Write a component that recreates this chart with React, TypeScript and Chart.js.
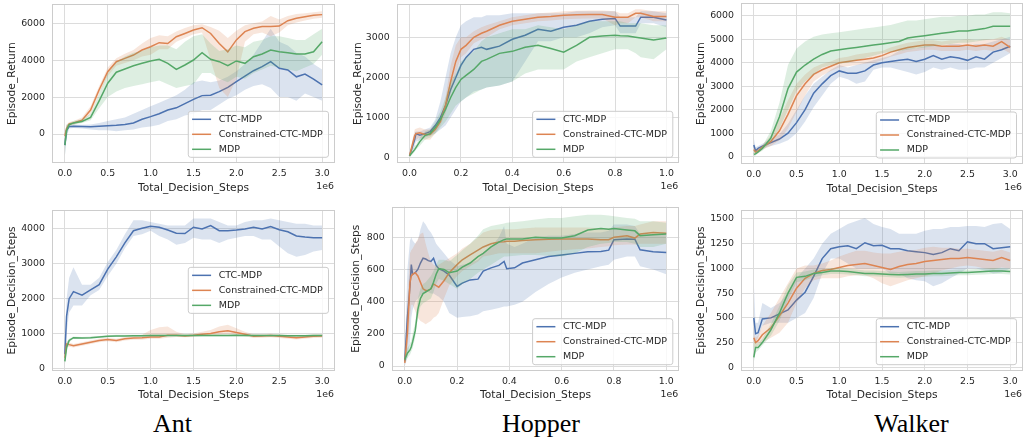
import React, { useEffect, useRef } from "react";
import { Chart, registerables } from "chart.js";

Chart.register(...registerables);

// ---------------- data ----------------
const SERIES_LABELS = ["CTC-MDP", "Constrained-CTC-MDP", "MDP"];
const X_AXIS_LABEL = "Total_Decision_Steps";
const Y_LABEL_RETURN = "Episode_Return";
const Y_LABEL_STEPS = "Episode_Decision_Steps";
const PANEL_TITLES = ["Ant", "Hopper", "Walker"];
const X_OFFSET_TEXT = "1e6";

const X_TICKS_3M = [0, 0.5, 1.0, 1.5, 2.0, 2.5, 3.0];
const X_TICKS_1M = [0, 0.2, 0.4, 0.6, 0.8, 1.0];
const Y_TICKS_ANT_RET = [0, 2000, 4000, 6000];
const Y_TICKS_HOP_RET = [0, 1000, 2000, 3000];
const Y_TICKS_WLK_RET = [0, 1000, 2000, 3000, 4000, 5000, 6000];
const Y_TICKS_ANT_STP = [0, 1000, 2000, 3000, 4000];
const Y_TICKS_HOP_STP = [0, 200, 400, 600, 800];
const Y_TICKS_WLK_STP = [0, 250, 500, 750, 1000, 1250, 1500];

// steps (in 1e6) for Ant / Walker runs
const X_LONG = [0, 0.02, 0.05, 0.1, 0.2, 0.3, 0.4, 0.5, 0.6, 0.7, 0.8, 0.9, 1.0, 1.1, 1.2, 1.3, 1.4, 1.5, 1.6, 1.7, 1.8, 1.9, 2.0, 2.1, 2.2, 2.3, 2.4, 2.5, 2.6, 2.7, 2.8, 2.9, 3.0];

// Ant - Episode_Return
const ANT_RET_CTC = [-600, 200, 400, 420, 400, 390, 420, 450, 470, 520, 600, 800, 940, 1100, 1300, 1420, 1650, 1880, 2080, 2100, 2300, 2530, 2840, 3140, 3430, 3650, 3920, 3560, 3470, 3100, 3250, 2980, 2660];
const ANT_RET_CTC_LO = [-1200, -200, 300, 320, 300, 250, 200, 200, 150, 200, 250, 350, 400, 500, 700, 800, 1000, 1100, 1300, 1300, 1600, 1900, 2100, 2400, 2600, 2700, 2500, 2000, 2000, 1800, 2200, 2000, 1800];
const ANT_RET_CTC_HI = [0, 500, 500, 520, 500, 520, 600, 700, 800, 900, 1100, 1300, 1500, 1700, 1900, 2100, 2400, 2800, 2900, 2800, 2900, 3100, 3400, 3800, 4300, 5000, 5700, 5000, 4800, 4400, 4200, 3800, 3500];
const ANT_RET_CON = [-100, 300, 550, 600, 750, 1300, 2400, 3380, 3920, 4100, 4280, 4550, 4730, 4950, 4900, 5270, 5450, 5640, 5760, 5450, 4900, 4450, 5100, 5550, 5730, 5820, 5820, 5850, 6140, 6270, 6360, 6430, 6470];
const ANT_RET_CON_LO = [-300, 200, 450, 500, 650, 1100, 2200, 3150, 3700, 3850, 4000, 4200, 4300, 4600, 4600, 5000, 5200, 5400, 5500, 4000, 2500, 2000, 3000, 5000, 5400, 5500, 5300, 5500, 5900, 6050, 6150, 6250, 6300];
const ANT_RET_CON_HI = [100, 500, 650, 700, 900, 1500, 2600, 3600, 4100, 4350, 4550, 4900, 5200, 5350, 5300, 5550, 5750, 5900, 5950, 5800, 5600, 5200, 5600, 5900, 6000, 6100, 6400, 6200, 6400, 6500, 6550, 6600, 6650];
const ANT_RET_MDP = [-600, 200, 500, 600, 680, 900, 1800, 2750, 3350, 3520, 3700, 3830, 3960, 4050, 3830, 3500, 3740, 4010, 4410, 4050, 3920, 3700, 3960, 3830, 4190, 4340, 4550, 4460, 4410, 4340, 4340, 4460, 5000];
const ANT_RET_MDP_LO = [-1200, -100, 400, 500, 600, 750, 1400, 2000, 2300, 2500, 2600, 2700, 2800, 2900, 2700, 2500, 2600, 2700, 3300, 3300, 3000, 2800, 3100, 3000, 3300, 3500, 3700, 3600, 3500, 3400, 3600, 3800, 4300];
const ANT_RET_MDP_HI = [0, 500, 600, 700, 800, 1100, 2200, 3300, 3900, 4200, 4400, 4500, 4700, 4800, 4800, 4600, 5000, 5300, 5400, 4900, 4500, 4600, 4800, 4700, 5000, 5100, 5300, 5300, 5200, 5100, 5100, 5400, 5700];

// Walker - Episode_Return
const WLK_RET_CTC = [500, 250, 350, 450, 600, 750, 1000, 1450, 2000, 2700, 3100, 3450, 3650, 3550, 3550, 3650, 3900, 4000, 4050, 4100, 4150, 4050, 4150, 4300, 4150, 4250, 4200, 4100, 4250, 4150, 4450, 4550, 4700];
const WLK_RET_CTC_LO = [300, 200, 250, 350, 450, 550, 700, 1000, 1500, 2100, 2600, 3100, 3400, 3300, 3100, 3200, 3700, 3800, 3800, 3700, 3600, 3500, 3600, 3800, 3700, 3800, 3700, 3700, 3800, 3800, 4000, 4200, 4400];
const WLK_RET_CTC_HI = [800, 400, 450, 550, 750, 950, 1400, 2000, 2600, 3100, 3400, 3700, 3900, 3800, 3900, 4000, 4100, 4200, 4300, 4500, 4600, 4600, 4700, 4800, 4700, 4800, 4800, 4700, 4800, 4800, 4900, 5000, 5100];
const WLK_RET_CON = [300, 200, 250, 400, 650, 1100, 1800, 2600, 3100, 3500, 3700, 3850, 4000, 4050, 4100, 4150, 4200, 4300, 4450, 4550, 4650, 4700, 4750, 4750, 4700, 4700, 4700, 4750, 4700, 4750, 4700, 4900, 4650];
const WLK_RET_CON_LO = [150, 100, 150, 300, 450, 700, 1200, 1900, 2600, 3200, 3450, 3650, 3800, 3850, 3900, 3950, 4000, 4100, 4250, 4350, 4450, 4500, 4550, 4550, 4500, 4500, 4500, 4550, 4500, 4550, 4500, 4600, 4400];
const WLK_RET_CON_HI = [400, 300, 350, 500, 900, 1600, 2400, 3100, 3500, 3800, 3950, 4050, 4200, 4250, 4350, 4400, 4450, 4500, 4650, 4750, 4850, 4900, 4950, 4950, 4900, 4950, 4950, 5000, 4950, 5000, 5000, 5100, 4950];
const WLK_RET_MDP = [100, 120, 200, 350, 800, 1700, 2900, 3600, 3900, 4150, 4350, 4500, 4550, 4600, 4650, 4700, 4750, 4800, 4850, 4900, 5050, 5100, 5150, 5200, 5250, 5300, 5350, 5350, 5400, 5450, 5550, 5550, 5550];
const WLK_RET_MDP_LO = [0, 50, 150, 250, 600, 1200, 2000, 2800, 3200, 3500, 3800, 3900, 3950, 4000, 4100, 4200, 4300, 4400, 4450, 4500, 4550, 4600, 4650, 4700, 4750, 4800, 4850, 4850, 4900, 4950, 5000, 5000, 5000];
const WLK_RET_MDP_HI = [300, 250, 300, 450, 1100, 2300, 3900, 4600, 4900, 5100, 5200, 5250, 5300, 5350, 5400, 5450, 5500, 5550, 5600, 5700, 5800, 5800, 5850, 5900, 5950, 5950, 6000, 6000, 6050, 6050, 6150, 6150, 6100];

// Ant - Episode_Decision_Steps
const ANT_STP_CTC = [400, 1500, 2000, 2200, 2100, 2250, 2400, 2850, 3200, 3600, 3950, 4020, 4080, 4050, 3970, 3880, 3870, 4050, 4000, 4100, 3950, 3950, 3970, 4000, 4050, 4000, 4070, 3980, 3920, 3800, 3770, 3750, 3750];
const ANT_STP_CTC_LO = [200, 1000, 1600, 1800, 1800, 2100, 2250, 2650, 3000, 3450, 3800, 3850, 3950, 3800, 3700, 3550, 3600, 3750, 3700, 3700, 3600, 3700, 3750, 3800, 3800, 3700, 3700, 3500, 3300, 3200, 3250, 3350, 3400];
const ANT_STP_CTC_HI = [600, 2000, 2600, 2900, 2400, 2400, 2600, 3050, 3400, 3850, 4250, 4250, 4200, 4150, 4100, 4100, 4100, 4300, 4300, 4300, 4200, 4100, 4100, 4200, 4250, 4250, 4300, 4250, 4200, 4150, 4150, 4100, 4100];
const ANT_STP_CON = [300, 700, 680, 650, 700, 750, 800, 830, 800, 850, 870, 880, 900, 900, 950, 950, 930, 950, 980, 1000, 1050, 1080, 1030, 980, 920, 930, 940, 920, 900, 880, 900, 920, 930];
const ANT_STP_CON_LO = [150, 600, 620, 600, 650, 700, 750, 780, 750, 800, 820, 820, 850, 850, 880, 900, 890, 900, 930, 950, 960, 980, 960, 920, 870, 880, 890, 870, 850, 830, 850, 870, 880];
const ANT_STP_CON_HI = [450, 800, 740, 700, 750, 800, 850, 880, 850, 900, 920, 960, 1100, 1180, 1200, 1050, 980, 1000, 1050, 1100, 1200, 1250, 1150, 1050, 980, 980, 990, 970, 950, 930, 950, 970, 980];
const ANT_STP_MDP = [200, 600, 800, 880, 870, 880, 900, 920, 930, 930, 935, 935, 940, 940, 940, 940, 945, 945, 945, 945, 945, 945, 950, 945, 945, 940, 940, 940, 935, 935, 935, 940, 940];
const ANT_STP_MDP_LO = [100, 450, 750, 850, 840, 850, 870, 890, 900, 900, 905, 905, 910, 910, 910, 910, 915, 915, 915, 915, 915, 915, 920, 915, 915, 910, 910, 910, 905, 905, 905, 910, 910];
const ANT_STP_MDP_HI = [300, 750, 850, 910, 900, 910, 930, 950, 960, 960, 965, 965, 970, 970, 970, 970, 975, 975, 975, 975, 975, 975, 980, 975, 975, 970, 970, 970, 965, 965, 965, 970, 970];

// Walker - Episode_Decision_Steps
const WLK_STP_CTC = [500, 340, 350, 490, 500, 540, 580, 680, 760, 920, 1100, 1200, 1220, 1230, 1200, 1260, 1230, 1235, 1200, 1200, 1180, 1170, 1160, 1140, 1160, 1200, 1180, 1270, 1250, 1250, 1200, 1210, 1220];
const WLK_STP_CTC_LO = [300, 250, 300, 420, 450, 450, 450, 500, 550, 700, 950, 1100, 1100, 1050, 1000, 1000, 1000, 1000, 950, 950, 900, 880, 870, 820, 850, 900, 950, 1000, 1000, 980, 950, 960, 1000];
const WLK_STP_CTC_HI = [850, 450, 450, 650, 600, 650, 750, 900, 1000, 1100, 1250, 1350, 1400, 1450, 1480, 1510, 1450, 1420, 1400, 1350, 1350, 1350, 1380, 1400, 1400, 1420, 1420, 1430, 1430, 1420, 1450, 1460, 1400];
const WLK_STP_CON = [300, 250, 270, 330, 400, 520, 650, 800, 900, 950, 980, 990, 1010, 1030, 1040, 1050, 1030, 1010, 990, 1020, 1040, 1050, 1070, 1080, 1090, 1100, 1100, 1110, 1100, 1090, 1080, 1110, 1080];
const WLK_STP_CON_LO = [200, 200, 220, 250, 300, 350, 450, 650, 800, 880, 900, 900, 900, 920, 930, 930, 900, 850, 820, 850, 880, 900, 920, 950, 980, 1000, 1020, 1030, 1020, 1000, 990, 1010, 1000];
const WLK_STP_CON_HI = [350, 300, 320, 420, 550, 700, 850, 1000, 1030, 1030, 1050, 1080, 1120, 1150, 1180, 1180, 1160, 1150, 1150, 1170, 1180, 1190, 1210, 1220, 1210, 1210, 1200, 1200, 1190, 1180, 1170, 1190, 1160];
const WLK_STP_MDP = [100, 200, 200, 250, 380, 550, 750, 910, 920, 950, 960, 975, 975, 970, 960, 950, 950, 945, 940, 935, 940, 945, 945, 950, 950, 955, 960, 960, 965, 970, 975, 975, 970];
const WLK_STP_MDP_LO = [50, 150, 170, 220, 320, 470, 680, 860, 880, 910, 930, 945, 945, 940, 930, 920, 920, 915, 910, 905, 910, 915, 915, 920, 920, 925, 930, 930, 935, 940, 945, 945, 940];
const WLK_STP_MDP_HI = [250, 250, 240, 290, 440, 620, 830, 960, 970, 990, 990, 1005, 1005, 1000, 990, 980, 980, 975, 970, 965, 970, 975, 975, 980, 980, 985, 990, 990, 995, 1000, 1005, 1005, 1000];

// Hopper - Episode_Return
const HOP_RET_X = [0, 0.02, 0.025, 0.04, 0.06, 0.08, 0.1, 0.12, 0.14, 0.16, 0.18, 0.2, 0.22, 0.25, 0.28, 0.3, 0.35, 0.4, 0.45, 0.5, 0.55, 0.6, 0.65, 0.7, 0.75, 0.8, 0.82, 0.85, 0.88, 0.9, 0.95, 1.0];
const HOP_RET_CTC = [50, 450, 600, 560, 600, 650, 800, 1000, 1300, 1700, 2000, 2300, 2500, 2700, 2750, 2700, 2780, 2950, 3050, 3200, 3150, 3250, 3300, 3400, 3450, 3470, 3280, 3280, 3280, 3500, 3500, 3430];
const HOP_RET_CTC_LO = [0, 300, 400, 450, 500, 550, 600, 700, 800, 1000, 1200, 1400, 1500, 1650, 1700, 1750, 1800, 1900, 2400, 2900, 2900, 3000, 3000, 3100, 3250, 3300, 3100, 3100, 3100, 3350, 3350, 3250];
const HOP_RET_CTC_HI = [100, 600, 650, 650, 700, 750, 950, 1400, 2000, 2600, 3000, 3300, 3400, 3500, 3500, 3550, 3550, 3600, 3600, 3600, 3600, 3600, 3650, 3650, 3650, 3650, 3500, 3500, 3500, 3650, 3650, 3600];
const HOP_RET_CON = [50, 550, 600, 620, 580, 580, 700, 900, 1300, 1900, 2400, 2700, 2800, 3000, 3100, 3150, 3300, 3400, 3450, 3500, 3520, 3550, 3560, 3570, 3570, 3500, 3500, 3500, 3600, 3600, 3520, 3520];
const HOP_RET_CON_LO = [0, 420, 450, 500, 450, 450, 600, 800, 1100, 1600, 2100, 2500, 2600, 2850, 2950, 3000, 3200, 3300, 3350, 3400, 3420, 3450, 3460, 3470, 3470, 3300, 3350, 3350, 3500, 3500, 3400, 3400];
const HOP_RET_CON_HI = [100, 700, 720, 750, 700, 700, 800, 1000, 1500, 2300, 2800, 3000, 3000, 3150, 3250, 3300, 3400, 3500, 3550, 3600, 3620, 3650, 3660, 3670, 3670, 3650, 3600, 3600, 3700, 3700, 3650, 3650];
const HOP_RET_MDP = [50, 200, 250, 400, 550, 600, 750, 950, 1200, 1500, 1750, 1950, 2050, 2200, 2400, 2450, 2600, 2650, 2750, 2800, 2720, 2630, 2800, 3000, 3030, 3050, 3040, 3030, 3000, 2980, 2930, 2980];
const HOP_RET_MDP_LO = [0, 150, 200, 300, 450, 500, 600, 750, 900, 1100, 1300, 1400, 1500, 1600, 1700, 1750, 1800, 1900, 2100, 2200, 2200, 2200, 2400, 2500, 2600, 2700, 2700, 2700, 2600, 2500, 2450, 2700];
const HOP_RET_MDP_HI = [100, 300, 320, 500, 650, 700, 900, 1150, 1500, 1900, 2100, 2400, 2500, 2650, 2900, 3000, 3100, 3200, 3200, 3300, 3250, 3200, 3300, 3400, 3400, 3400, 3400, 3350, 3350, 3350, 3300, 3300];

// Hopper - Episode_Decision_Steps
const HOP_STP_X = [0, 0.01, 0.02, 0.025, 0.03, 0.04, 0.05, 0.06, 0.07, 0.08, 0.09, 0.1, 0.11, 0.12, 0.13, 0.15, 0.17, 0.2, 0.22, 0.25, 0.28, 0.3, 0.33, 0.36, 0.38, 0.39, 0.42, 0.45, 0.5, 0.55, 0.6, 0.65, 0.7, 0.75, 0.78, 0.8, 0.85, 0.88, 0.9, 0.95, 1.0];
const HOP_STP_CTC = [30, 300, 500, 630, 570, 580, 600, 640, 670, 665, 655, 650, 670, 625, 605, 590, 565, 495, 515, 535, 540, 590, 610, 625, 650, 605, 610, 640, 660, 680, 690, 700, 710, 712, 720, 785, 790, 788, 722, 710, 705];
const HOP_STP_CTC_LO = [0, 50, 150, 300, 350, 400, 420, 440, 450, 460, 460, 450, 450, 440, 430, 400, 330, 300, 305, 310, 320, 340, 350, 360, 370, 370, 380, 400, 460, 510, 550, 580, 600, 620, 630, 660, 680, 680, 620, 600, 570];
const HOP_STP_CTC_HI = [60, 600, 780, 800, 780, 760, 780, 850, 900, 880, 850, 830, 800, 760, 740, 700, 660, 620, 630, 640, 660, 700, 740, 800, 870, 760, 740, 760, 800, 810, 810, 820, 830, 830, 840, 880, 880, 870, 820, 820, 820];
const HOP_STP_CON = [20, 200, 520, 560, 570, 580, 560, 520, 480, 470, 470, 480, 510, 500, 490, 530, 580, 630, 660, 690, 720, 740, 760, 770, 772, 775, 775, 780, 785, 788, 790, 790, 790, 785, 785, 800, 810, 795, 820, 830, 825];
const HOP_STP_CON_LO = [0, 100, 300, 380, 380, 340, 300, 280, 270, 260, 270, 280, 300, 310, 330, 420, 500, 560, 590, 620, 650, 680, 690, 700, 700, 700, 700, 700, 700, 710, 720, 725, 730, 740, 745, 750, 755, 755, 760, 760, 760];
const HOP_STP_CON_HI = [40, 400, 700, 720, 730, 760, 790, 820, 830, 760, 700, 650, 630, 620, 630, 650, 670, 700, 730, 760, 800, 830, 845, 850, 850, 850, 850, 855, 860, 860, 860, 860, 860, 855, 855, 860, 870, 870, 880, 900, 900];
const HOP_STP_MDP = [40, 80, 100, 120, 150, 220, 350, 420, 450, 460, 470, 480, 520, 570, 605, 600, 580, 590, 615, 640, 680, 700, 740, 770, 785, 790, 790, 790, 800, 795, 795, 810, 845, 855, 850, 855, 845, 840, 810, 815, 820];
const HOP_STP_MDP_LO = [20, 50, 70, 90, 110, 180, 300, 370, 390, 400, 410, 420, 460, 510, 540, 530, 510, 480, 510, 540, 580, 600, 630, 660, 680, 680, 685, 690, 690, 685, 680, 700, 740, 760, 765, 770, 770, 760, 740, 740, 760];
const HOP_STP_MDP_HI = [70, 110, 140, 160, 200, 270, 420, 480, 510, 520, 540, 560, 590, 630, 660, 660, 650, 690, 720, 760, 810, 850, 870, 880, 885, 890, 895, 900, 910, 920, 920, 930, 940, 940, 935, 930, 920, 915, 900, 900, 890];

// ---------------- style ----------------
const LINE_COLORS = ["#4c72b0", "#dd8452", "#55a868"];
const BAND_COLORS = ["rgba(76,114,176,0.2)", "rgba(221,132,82,0.2)", "rgba(85,168,104,0.2)"];
const TEXT_COLOR = "#262626";
const GRID_COLOR = "#dcdcdc";
const FRAME_COLOR = "#cccccc";
const FONT_FAMILY = "'DejaVu Sans', Verdana, sans-serif";
const TICK_SIZE = 9.4;
const LABEL_SIZE = 10.7;
const LEGEND_SIZE = 9.5;
const LINE_WIDTH = 1.5;
const TITLE_CENTERS = [172.5, 541, 911.5];

type Series = { mean: number[]; lo: number[]; hi: number[] };
type PanelDef = {
  x: number[];
  series: Series[];
  xTicks: number[];
  yTicks: number[];
  xMin: number; xMax: number; yMin: number; yMax: number;
  yLabel: string;
  legend: "lowerRight" | "centerRight";
  box: { cl: number; ct: number; cw: number; ch: number; pl: number; pt: number; pr: number; pb: number; yTitleX: number };
};

const PANELS: PanelDef[] = [
  {
    x: X_LONG,
    series: [
      { mean: ANT_RET_CTC, lo: ANT_RET_CTC_LO, hi: ANT_RET_CTC_HI },
      { mean: ANT_RET_CON, lo: ANT_RET_CON_LO, hi: ANT_RET_CON_HI },
      { mean: ANT_RET_MDP, lo: ANT_RET_MDP_LO, hi: ANT_RET_MDP_HI },
    ],
    xTicks: X_TICKS_3M, yTicks: Y_TICKS_ANT_RET,
    xMin: -0.15, xMax: 3.15, yMin: -1588, yMax: 7046,
    yLabel: Y_LABEL_RETURN, legend: "lowerRight",
    box: { cl: 0, ct: 0, cw: 340, ch: 196, pl: 52, pt: 4, pr: 335, pb: 163.3, yTitleX: 12.5 },
  },
  {
    x: HOP_RET_X,
    series: [
      { mean: HOP_RET_CTC, lo: HOP_RET_CTC_LO, hi: HOP_RET_CTC_HI },
      { mean: HOP_RET_CON, lo: HOP_RET_CON_LO, hi: HOP_RET_CON_HI },
      { mean: HOP_RET_MDP, lo: HOP_RET_MDP_LO, hi: HOP_RET_MDP_HI },
    ],
    xTicks: X_TICKS_1M, yTicks: Y_TICKS_HOP_RET,
    xMin: -0.05, xMax: 1.05, yMin: -140, yMax: 3830,
    yLabel: Y_LABEL_RETURN, legend: "lowerRight",
    box: { cl: 340, ct: 0, cw: 340, ch: 196, pl: 396.7, pt: 4, pr: 679.3, pb: 163.3, yTitleX: 358.5 },
  },
  {
    x: X_LONG,
    series: [
      { mean: WLK_RET_CTC, lo: WLK_RET_CTC_LO, hi: WLK_RET_CTC_HI },
      { mean: WLK_RET_CON, lo: WLK_RET_CON_LO, hi: WLK_RET_CON_HI },
      { mean: WLK_RET_MDP, lo: WLK_RET_MDP_LO, hi: WLK_RET_MDP_HI },
    ],
    xTicks: X_TICKS_3M, yTicks: Y_TICKS_WLK_RET,
    xMin: -0.15, xMax: 3.15, yMin: -311, yMax: 6540,
    yLabel: Y_LABEL_RETURN, legend: "lowerRight",
    box: { cl: 680, ct: 0, cw: 343, ch: 196, pl: 741, pt: 3, pr: 1023, pb: 164, yTitleX: 701 },
  },
  {
    x: X_LONG,
    series: [
      { mean: ANT_STP_CTC, lo: ANT_STP_CTC_LO, hi: ANT_STP_CTC_HI },
      { mean: ANT_STP_CON, lo: ANT_STP_CON_LO, hi: ANT_STP_CON_HI },
      { mean: ANT_STP_MDP, lo: ANT_STP_MDP_LO, hi: ANT_STP_MDP_HI },
    ],
    xTicks: X_TICKS_3M, yTicks: Y_TICKS_ANT_STP,
    xMin: -0.15, xMax: 3.15, yMin: -69, yMax: 4545,
    yLabel: Y_LABEL_STEPS, legend: "centerRight",
    box: { cl: 0, ct: 196, cw: 340, ch: 208, pl: 52, pt: 210, pr: 335, pb: 370.7, yTitleX: 12 },
  },
  {
    x: HOP_STP_X,
    series: [
      { mean: HOP_STP_CTC, lo: HOP_STP_CTC_LO, hi: HOP_STP_CTC_HI },
      { mean: HOP_STP_CON, lo: HOP_STP_CON_LO, hi: HOP_STP_CON_HI },
      { mean: HOP_STP_MDP, lo: HOP_STP_MDP_LO, hi: HOP_STP_MDP_HI },
    ],
    xTicks: X_TICKS_1M, yTicks: Y_TICKS_HOP_STP,
    xMin: -0.05, xMax: 1.05, yMin: -29, yMax: 990,
    yLabel: Y_LABEL_STEPS, legend: "lowerRight",
    box: { cl: 340, ct: 196, cw: 340, ch: 208, pl: 391.7, pt: 206.7, pr: 679.3, pb: 370.7, yTitleX: 356.7 },
  },
  {
    x: X_LONG,
    series: [
      { mean: WLK_STP_CTC, lo: WLK_STP_CTC_LO, hi: WLK_STP_CTC_HI },
      { mean: WLK_STP_CON, lo: WLK_STP_CON_LO, hi: WLK_STP_CON_HI },
      { mean: WLK_STP_MDP, lo: WLK_STP_MDP_LO, hi: WLK_STP_MDP_HI },
    ],
    xTicks: X_TICKS_3M, yTicks: Y_TICKS_WLK_STP,
    xMin: -0.15, xMax: 3.15, yMin: -34, yMax: 1591,
    yLabel: Y_LABEL_STEPS, legend: "lowerRight",
    box: { cl: 680, ct: 196, cw: 343, ch: 208, pl: 741, pt: 210, pr: 1023, pb: 370.7, yTitleX: 701.5 },
  },
];

const pts = (xs: number[], ys: number[]) => xs.map((x, i) => ({ x, y: ys[i] }));

// frame + offset text + legend drawn on the chart canvas
const decorPlugin = {
  id: "decor",
  afterDatasetsDraw(chart: any) {
    const { ctx, chartArea: a } = chart;
    ctx.save();
    ctx.strokeStyle = FRAME_COLOR;
    ctx.lineWidth = 1;
    const l = Math.round(a.left) + 0.5, t = Math.round(a.top) + 0.5;
    const r = Math.round(a.right) - 0.5, b = Math.round(a.bottom) - 0.5;
    ctx.strokeRect(l, t, r - l, b - t);
    ctx.restore();
  },
  afterDraw(chart: any, _args: any, opts: any) {
    const { ctx, chartArea: a } = chart;
    ctx.save();
    // offset text
    ctx.font = `${TICK_SIZE}px ${FONT_FAMILY}`;
    ctx.fillStyle = TEXT_COLOR;
    ctx.textAlign = "right";
    ctx.textBaseline = "middle";
    ctx.fillText(X_OFFSET_TEXT, a.right - 1, a.bottom + 23.4);

    // legend
    const fs = LEGEND_SIZE;
    ctx.font = `${fs}px ${FONT_FAMILY}`;
    const pad = 0.4 * fs, handle = 2 * fs, gap = 0.8 * fs, rowH = 15;
    const maxW = Math.max(...SERIES_LABELS.map((s) => ctx.measureText(s).width));
    const w = pad + handle + gap + maxW + pad + 2;
    const h = 46;
    const right = a.right - 6.5;
    const left = right - w;
    let top: number;
    if (opts.mode === "centerRight") top = (a.top + a.bottom) / 2 - h / 2;
    else top = a.bottom - 6 - h;
    const rad = 2.5;
    ctx.beginPath();
    ctx.moveTo(left + rad, top);
    ctx.lineTo(left + w - rad, top);
    ctx.arcTo(left + w, top, left + w, top + rad, rad);
    ctx.lineTo(left + w, top + h - rad);
    ctx.arcTo(left + w, top + h, left + w - rad, top + h, rad);
    ctx.lineTo(left + rad, top + h);
    ctx.arcTo(left, top + h, left, top + h - rad, rad);
    ctx.lineTo(left, top + rad);
    ctx.arcTo(left, top, left + rad, top, rad);
    ctx.closePath();
    ctx.fillStyle = "rgba(255,255,255,0.8)";
    ctx.fill();
    ctx.strokeStyle = FRAME_COLOR;
    ctx.lineWidth = 1;
    ctx.stroke();
    SERIES_LABELS.forEach((lab, k) => {
      const cy = top + 8 + k * rowH;
      ctx.strokeStyle = LINE_COLORS[k];
      ctx.lineWidth = LINE_WIDTH;
      ctx.beginPath();
      ctx.moveTo(left + pad, cy);
      ctx.lineTo(left + pad + handle, cy);
      ctx.stroke();
      ctx.fillStyle = TEXT_COLOR;
      ctx.textAlign = "left";
      ctx.textBaseline = "middle";
      ctx.fillText(lab, left + pad + handle + gap, cy);
    });
    ctx.restore();
  },
};

function Panel({ p }: { p: PanelDef }) {
  const ref = useRef<HTMLCanvasElement>(null);
  const B = p.box;
  useEffect(() => {
    if (!ref.current) return;
    const datasets: any[] = [];
    p.series.forEach((s, k) => {
      const base = (3 - k) * 2;
      datasets.push({
        label: "", data: pts(p.x, s.hi), borderColor: "rgba(0,0,0,0)", borderWidth: 0,
        pointRadius: 0, fill: "+1", backgroundColor: BAND_COLORS[k], order: base, tension: 0,
      });
      datasets.push({
        label: "", data: pts(p.x, s.lo), borderColor: "rgba(0,0,0,0)", borderWidth: 0,
        pointRadius: 0, fill: false, order: base, tension: 0,
      });
      datasets.push({
        label: SERIES_LABELS[k], data: pts(p.x, s.mean), borderColor: LINE_COLORS[k], borderWidth: LINE_WIDTH,
        pointRadius: 0, fill: false, order: base - 1, tension: 0,
      });
    });
    const lhTitle = LABEL_SIZE * 1.2;
    const lhTick = TICK_SIZE * 1.2;
    const yAxisW = B.pl - B.cl;
    const xAxisH = B.ct + B.ch - B.pb;
    const chart = new Chart(ref.current, {
      type: "line",
      data: { datasets },
      plugins: [decorPlugin],
      options: {
        animation: false,
        responsive: false,
        devicePixelRatio: 1,
        events: [],
        layout: { padding: { top: B.pt - B.ct, right: B.cl + B.cw - B.pr, bottom: 0, left: 0 } },
        plugins: {
          legend: { display: false },
          tooltip: { enabled: false },
          decor: { mode: p.legend },
        } as any,
        scales: {
          x: {
            type: "linear",
            min: p.xMin,
            max: p.xMax,
            afterBuildTicks: (s: any) => { s.ticks = p.xTicks.map((v) => ({ value: v })); },
            afterFit: (s: any) => { s.height = xAxisH; s.paddingLeft = 0; s.paddingRight = 0; },
            ticks: {
              callback: (v: any) => Number(v).toFixed(1),
              font: { family: FONT_FAMILY, size: TICK_SIZE },
              color: TEXT_COLOR,
              padding: 10.5 - lhTick / 2,
              autoSkip: false,
              maxRotation: 0,
            },
            grid: { color: GRID_COLOR, drawTicks: false, lineWidth: 1 },
            border: { display: false },
            title: {
              display: true,
              text: X_AXIS_LABEL,
              font: { family: FONT_FAMILY, size: LABEL_SIZE },
              color: TEXT_COLOR,
              padding: { top: 0, bottom: xAxisH - 24.8 - lhTitle / 2 },
            },
          },
          y: {
            type: "linear",
            min: p.yMin,
            max: p.yMax,
            afterBuildTicks: (s: any) => { s.ticks = p.yTicks.map((v) => ({ value: v })); },
            afterFit: (s: any) => { s.width = yAxisW; s.paddingTop = 0; s.paddingBottom = 0; },
            ticks: {
              callback: (v: any) => String(v),
              font: { family: FONT_FAMILY, size: TICK_SIZE },
              color: TEXT_COLOR,
              padding: 7,
              autoSkip: false,
            },
            grid: { color: GRID_COLOR, drawTicks: false, lineWidth: 1 },
            border: { display: false },
            title: {
              display: true,
              text: p.yLabel,
              font: { family: FONT_FAMILY, size: LABEL_SIZE },
              color: TEXT_COLOR,
              padding: { top: B.yTitleX - B.cl - lhTitle / 2, bottom: 0 },
            },
          },
        },
      } as any,
    });
    return () => chart.destroy();
  }, [p]);
  return (
    <canvas
      ref={ref}
      width={B.cw}
      height={B.ch}
      style={{ position: "absolute", left: B.cl, top: B.ct, width: B.cw, height: B.ch }}
    />
  );
}

export default function App() {
  return (
    <div style={{ position: "absolute", left: 0, top: 0, width: 1023, height: 439, background: "#fff", overflow: "hidden" }}>
      {PANELS.map((p, i) => (
        <Panel key={i} p={p} />
      ))}
      {PANEL_TITLES.map((t, i) => (
        <div
          key={t}
          style={{
            position: "absolute",
            left: TITLE_CENTERS[i] - 100,
            top: 411,
            width: 200,
            textAlign: "center",
            fontFamily: "'Liberation Serif', 'Times New Roman', serif",
            fontSize: 26,
            lineHeight: "26px",
            color: "#000",
          }}
        >
          {t}
        </div>
      ))}
    </div>
  );
}
